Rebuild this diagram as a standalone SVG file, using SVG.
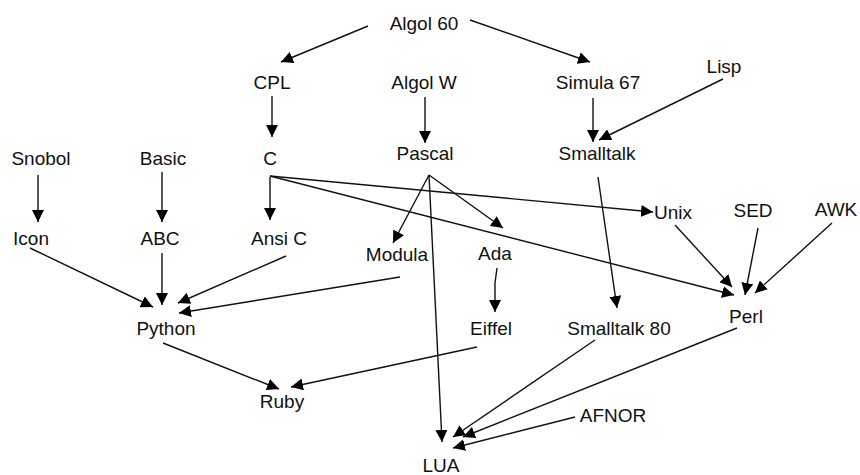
<svg xmlns="http://www.w3.org/2000/svg" width="860" height="475" viewBox="0 0 860 475">
<defs>
<marker id="arr" viewBox="0 0 10 10" refX="10" refY="5" markerWidth="12" markerHeight="12" markerUnits="userSpaceOnUse" orient="auto">
<path d="M0,0 L10,5 L0,10 Z" fill="#000"/>
</marker>
<style>
text{font-family:"Liberation Sans",Arial,sans-serif;font-size:19px;fill:#111;text-anchor:middle}
.e line,.e polyline{stroke:#111;stroke-width:1.4;fill:none;marker-end:url(#arr)}
</style>
</defs>
<rect width="860" height="475" fill="#fff"/>
<g id="connectors" class="e">
<line x1="368" y1="26" x2="281" y2="62"/>
<line x1="470" y1="20" x2="590" y2="62"/>
<line x1="272" y1="96" x2="272" y2="137"/>
<line x1="425" y1="97" x2="425" y2="143"/>
<line x1="593" y1="98" x2="593" y2="142"/>
<line x1="723" y1="79" x2="599" y2="140"/>
<line x1="38" y1="175" x2="38" y2="222"/>
<line x1="162" y1="172" x2="162" y2="222"/>
<polyline points="270,177 270,220"/>
<line x1="270" y1="176" x2="653" y2="212"/>
<line x1="270" y1="176" x2="734" y2="295"/>
<line x1="429" y1="175" x2="393" y2="243"/>
<line x1="429" y1="175" x2="503" y2="228"/>
<line x1="429" y1="175" x2="442" y2="442"/>
<polyline points="497,268 495,283 495,312"/>
<line x1="598" y1="177" x2="617" y2="308"/>
<line x1="675" y1="225" x2="732" y2="287"/>
<line x1="758" y1="228" x2="745" y2="295"/>
<line x1="832" y1="223" x2="755" y2="293"/>
<line x1="30" y1="248" x2="153" y2="307"/>
<line x1="162" y1="253" x2="162" y2="305"/>
<line x1="286" y1="256" x2="178" y2="303"/>
<line x1="400" y1="277" x2="179" y2="313"/>
<line x1="477" y1="347" x2="291" y2="387"/>
<line x1="163" y1="343" x2="279" y2="389"/>
<line x1="595" y1="340" x2="453" y2="437"/>
<line x1="737" y1="328" x2="463" y2="437"/>
<line x1="575" y1="417" x2="453" y2="448"/>
</g>
<g id="n-algol60"><text x="424" y="30">Algol 60</text></g>
<g id="n-cpl"><text x="272" y="89">CPL</text></g>
<g id="n-algolw"><text x="424" y="89">Algol W</text></g>
<g id="n-simula67"><text x="598" y="89">Simula 67</text></g>
<g id="n-lisp"><text x="724" y="73">Lisp</text></g>
<g id="n-snobol"><text x="41" y="165">Snobol</text></g>
<g id="n-basic"><text x="163" y="165">Basic</text></g>
<g id="n-c"><text x="270" y="165">C</text></g>
<g id="n-pascal"><text x="425" y="160">Pascal</text></g>
<g id="n-smalltalk"><text x="597" y="160">Smalltalk</text></g>
<g id="n-icon"><text x="31" y="245">Icon</text></g>
<g id="n-abc"><text x="160" y="245">ABC</text></g>
<g id="n-ansic"><text x="279" y="245">Ansi C</text></g>
<g id="n-unix"><text x="673" y="219">Unix</text></g>
<g id="n-sed"><text x="753" y="217">SED</text></g>
<g id="n-awk"><text x="836" y="216">AWK</text></g>
<g id="n-modula"><text x="397" y="261">Modula</text></g>
<g id="n-ada"><text x="495" y="260">Ada</text></g>
<g id="n-python"><text x="166" y="335">Python</text></g>
<g id="n-eiffel"><text x="491" y="335">Eiffel</text></g>
<g id="n-smalltalk80"><text x="619" y="335">Smalltalk 80</text></g>
<g id="n-perl"><text x="746" y="323">Perl</text></g>
<g id="n-ruby"><text x="282" y="408">Ruby</text></g>
<g id="n-afnor"><text x="613" y="422">AFNOR</text></g>
<g id="n-lua"><text x="441" y="472">LUA</text></g>
</svg>
